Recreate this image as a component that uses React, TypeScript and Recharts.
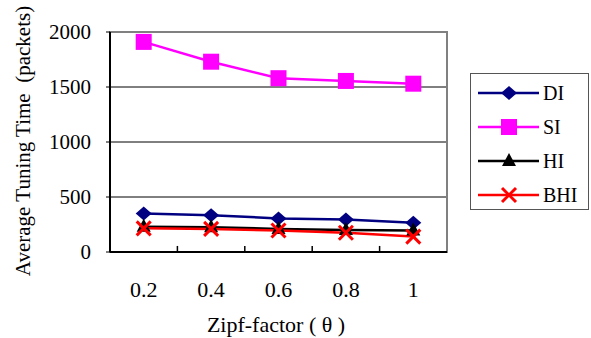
import React from "react"
import {
  LineChart,
  Line,
  XAxis,
  YAxis,
  CartesianGrid,
  ReferenceLine,
  ReferenceArea,
  Label,
} from "recharts"

// Zipf-factor categories and average tuning time (packets) per scheme
const zipf = ["0.2", "0.4", "0.6", "0.8", "1"]
const di = [350, 335, 305, 295, 265]
const si = [1910, 1730, 1580, 1555, 1530]
const hi = [230, 225, 210, 200, 195]
const bhi = [215, 210, 195, 175, 140]
const yTicks = [0, 500, 1000, 1500, 2000]

const FONT = "'Liberation Serif', 'Times New Roman', serif"

const data = zipf.map((z, i) => ({
  x: i + 1,
  label: z,
  DI: di[i],
  SI: si[i],
  HI: hi[i],
  BHI: bhi[i],
}))

// category boundaries (where the small inside ticks sit)
const boundaries = zipf.slice(1).map((_, i) => i + 1.5)

const Diamond = ({ cx, cy, color }: any) => (
  <polygon
    points={`${cx},${cy - 7} ${cx + 8},${cy} ${cx},${cy + 7} ${cx - 8},${cy}`}
    fill={color}
  />
)
const Square = ({ cx, cy, color }: any) => (
  <rect x={cx - 8} y={cy - 8} width={16} height={16} fill={color} />
)
const Triangle = ({ cx, cy, color }: any) => (
  <polygon
    points={`${cx},${cy - 8} ${cx + 7},${cy + 5} ${cx - 7},${cy + 5}`}
    fill={color}
  />
)
const Cross = ({ cx, cy, color }: any) => (
  <g stroke={color} strokeWidth={3}>
    <line x1={cx - 7} y1={cy - 7} x2={cx + 7} y2={cy + 7} />
    <line x1={cx - 7} y1={cy + 7} x2={cx + 7} y2={cy - 7} />
  </g>
)

const series = [
  { key: "DI", color: "#000080", Marker: Diamond },
  { key: "SI", color: "#ff00ff", Marker: Square },
  { key: "HI", color: "#000000", Marker: Triangle },
  { key: "BHI", color: "#ff0000", Marker: Cross },
]

function LegendBox() {
  return (
    <div
      style={{
        position: "absolute",
        left: 470,
        top: 73,
        width: 119,
        height: 137,
        border: "1px solid #555",
        background: "#fff",
        boxSizing: "border-box",
      }}
    >
      <svg width={119} height={137}>
        {series.map((s, i) => {
          const y = 19 + i * 34
          return (
            <g key={s.key}>
              <line x1={7} x2={68} y1={y} y2={y} stroke={s.color} strokeWidth={2.5} />
              <s.Marker cx={38} cy={y} color={s.color} />
              <text x={72} y={y + 7} fontSize={20} fill="#000">
                {s.key}
              </text>
            </g>
          )
        })}
      </svg>
    </div>
  )
}

const XTick = ({ x, y, payload }: any) => (
  <text x={x} y={y + 37} textAnchor="middle" fontSize={22} fill="#000">
    {zipf[payload.value - 1]}
  </text>
)

export default function App() {
  return (
    <div style={{ position: "relative", width: 591, height: 338, background: "#fff", fontFamily: FONT }}>
      <style>{`body{margin:0} svg text{font-family:${FONT} !important}`}</style>
      <LineChart
        width={591}
        height={338}
        data={data}
        margin={{ top: 32, right: 144, left: 0, bottom: 0 }}
      >
        <ReferenceArea
          x1={0.5}
          x2={5.5}
          y1={0}
          y2={2000}
          fill="none"
          stroke="#808080"
          strokeWidth={2}
          ifOverflow="visible"
        />
        <CartesianGrid
          vertical={false}
          horizontalValues={[500, 1000, 1500]}
          stroke="#000"
          strokeWidth={1}
        />
        <XAxis
          dataKey="x"
          type="number"
          domain={[0.5, 5.5]}
          ticks={[1, 2, 3, 4, 5]}
          tickLine={false}
          axisLine={{ stroke: "#000", strokeWidth: 2 }}
          tick={<XTick />}
          height={86}
        >
          <Label
            content={() => (
              <text x={276} y={332} textAnchor="middle" fontSize={22} fill="#000">
                Zipf-factor ( θ )
              </text>
            )}
          />
        </XAxis>
        <YAxis
          domain={[0, 2000]}
          ticks={yTicks}
          width={110}
          axisLine={{ stroke: "#000", strokeWidth: 2 }}
          tickLine={{ stroke: "#000" }}
          tickSize={4}
          tickMargin={15}
          tick={{ fontSize: 21, fill: "#000" }}
        >
          <Label
            content={() => (
              <text
                x={30}
                y={141}
                transform="rotate(-90 30 141)"
                textAnchor="middle"
                fontSize={21}
                fill="#000"
                style={{ whiteSpace: "pre" }}
              >
                Average Tuning Time  (packets)
              </text>
            )}
          />
        </YAxis>
        {boundaries.map((b) => (
          <ReferenceLine
            key={b}
            segment={[
              { x: b, y: 0 },
              { x: b, y: 55 },
            ]}
            stroke="#000"
            strokeWidth={1.5}
          />
        ))}
        {series.map((s) => (
          <Line
            key={s.key}
            dataKey={s.key}
            stroke={s.color}
            strokeWidth={2.5}
            isAnimationActive={false}
            dot={(p: any) => <s.Marker key={`${s.key}-${p.index}`} cx={p.cx} cy={p.cy} color={s.color} />}
            activeDot={false}
          />
        ))}
      </LineChart>
      <LegendBox />
    </div>
  )
}
